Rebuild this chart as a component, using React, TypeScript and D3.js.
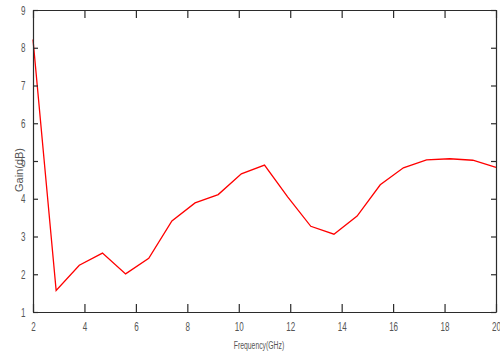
import React, { useEffect, useRef } from "react";
import * as d3 from "d3";

const freq = [2, 2.9, 3.8, 4.7, 5.6, 6.5, 7.4, 8.3, 9.2, 10.1, 11, 11.9, 12.8, 13.7, 14.6, 15.5, 16.4, 17.3, 18.2, 19.1, 20];
const gain = [8.22, 1.57, 2.24, 2.56, 2.01, 2.42, 3.41, 3.89, 4.11, 4.66, 4.89, 4.05, 3.27, 3.06, 3.54, 4.37, 4.82, 5.03, 5.06, 5.02, 4.83];
const xTicks = [2, 4, 6, 8, 10, 12, 14, 16, 18, 20];
const yTicks = [1, 2, 3, 4, 5, 6, 7, 8, 9];

const App = () => {
  const svgRef = useRef<SVGSVGElement>(null);

  useEffect(() => {
    const width = 500;
    const height = 358;
    const margin = { top: 10, right: 4, bottom: 46, left: 33 };
    const font = "'Liberation Sans', Arial, sans-serif";
    const squeeze = "scale(0.62,1)"; // 원본 폰트가 좁은 글꼴이라 가로로 눌러줌
    const axisColor = "#2b2b2b";
    const textColor = "#555";

    const svg = d3.select(svgRef.current);
    svg.selectAll("*").remove();
    svg.attr("width", width).attr("height", height);

    const x = d3.scaleLinear().domain([2, 20]).range([margin.left, width - margin.right]);
    const y = d3.scaleLinear().domain([1, 9]).range([height - margin.bottom, margin.top]);

    svg.append("rect").attr("width", width).attr("height", height).attr("fill", "#fff");

    //데이터 라인
    const line = d3
      .line<number>()
      .x((d, i) => x(freq[i]))
      .y((d) => y(d));
    svg
      .append("path")
      .datum(gain)
      .attr("d", line)
      .attr("fill", "none")
      .attr("stroke", "#ff0000")
      .attr("stroke-width", 1.3);

    //ticks (inward on all four sides)
    const bottom = d3.axisBottom(x).tickValues(xTicks).tickSizeInner(-8).tickSizeOuter(0).tickPadding(10).tickFormat(d3.format("d"));
    const top = d3.axisTop(x).tickValues(xTicks).tickSizeInner(-8).tickSizeOuter(0).tickFormat(() => "");
    const left = d3.axisLeft(y).tickValues(yTicks).tickSizeInner(-5).tickSizeOuter(0).tickPadding(12).tickFormat(d3.format("d"));
    const right = d3.axisRight(y).tickValues(yTicks).tickSizeInner(-5).tickSizeOuter(0).tickFormat(() => "");

    const gB = svg.append("g").attr("transform", `translate(0,${y(1)})`).call(bottom);
    const gT = svg.append("g").attr("transform", `translate(0,${y(9)})`).call(top);
    const gL = svg.append("g").attr("transform", `translate(${x(2)},0)`).call(left);
    const gR = svg.append("g").attr("transform", `translate(${x(20)},0)`).call(right);

    [gB, gT, gL, gR].forEach((g) => {
      g.select(".domain").attr("stroke", axisColor).attr("stroke-width", 1.2);
      g.selectAll(".tick line").attr("stroke", axisColor).attr("stroke-width", 1.2);
      g.selectAll(".tick text")
        .attr("fill", textColor)
        .attr("transform", squeeze)
        .style("font-family", font)
        .style("font-size", "13px");
    });

    //축 라벨
    svg
      .append("text")
      .attr("transform", `translate(259,349) ${squeeze}`)
      .attr("text-anchor", "middle")
      .attr("fill", textColor)
      .style("font-family", font)
      .style("font-size", "11px")
      .text("Frequency(GHz)");

    svg
      .append("text")
      .attr("transform", "translate(23,170) rotate(-90)")
      .attr("text-anchor", "middle")
      .attr("fill", textColor)
      .style("font-family", font)
      .style("font-size", "11px")
      .text("Gain(dB)");
  }, []);

  return <svg ref={svgRef} style={{ position: "absolute", left: 0, top: 0 }} />;
};

export default App;
